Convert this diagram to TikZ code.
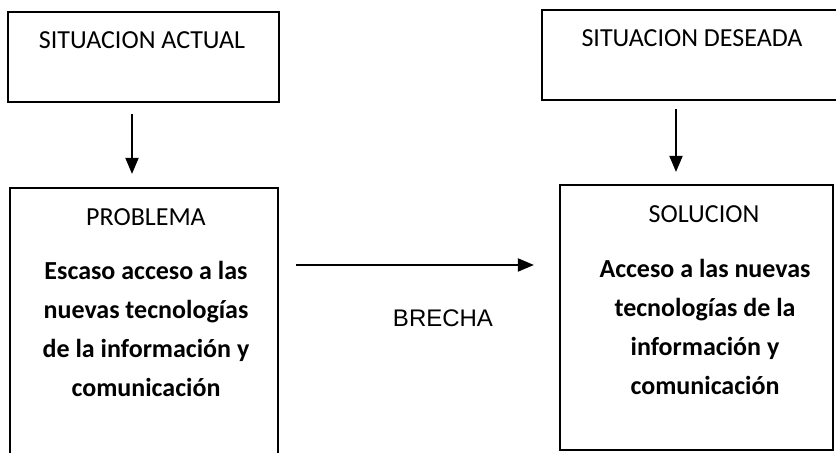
\documentclass[tikz,border=0pt]{standalone}
\usepackage{fontspec}
\setmainfont{Carlito}
\newfontfamily\arialfont{Liberation Sans}
\usetikzlibrary{calc}
\usetikzlibrary{arrows.meta}
\tikzset{
  caja/.style={draw,line width=1.1pt,rectangle,inner sep=0pt},
  titulo/.style={font={\fontsize{13}{15}\selectfont}},
  cuerpo/.style={align=center,font={\fontsize{13}{19.5}\selectfont\bfseries}},
  flecha/.style={line width=1pt,-{Triangle[length=8pt,width=6.5pt]}}
}

\begin{document}
\begin{tikzpicture}[x=0.5pt,y=-0.5pt]
  \useasboundingbox (0,0) rectangle (836,453);
  % cajas de arriba
  \node[caja,minimum width=135.5pt,minimum height=45pt] (actual) at (143.5,57) {};
  \node[caja,minimum width=148.5pt,minimum height=45pt] (deseada) at (690.5,55) {};
  \node[titulo] (tactual) at (142,40) {SITUACION ACTUAL};
  \node[titulo] (tdeseada) at (692,38) {SITUACION DESEADA};
  % cajas de abajo
  \node[caja,minimum width=134pt,minimum height=141pt] (problema) at (144,329) {};
  \node[caja,minimum width=136.5pt,minimum height=132.5pt] (solucion) at (696.5,317.5) {};
  \node[titulo] (tproblema) at (146,217) {PROBLEMA};
  \node[titulo] (tsolucion) at (704,214) {SOLUCION};
  \node[cuerpo] (cproblema) at (146,329) {Escaso acceso a las\\nuevas tecnologías\\de la información y\\comunicación};
  \node[cuerpo] (csolucion) at (705,327) {Acceso a las nuevas\\tecnologías de la\\información y\\comunicación};
  \node[font={\arialfont\fontsize{12}{14}\selectfont}] (brecha) at (443,318) {BRECHA};
  % flechas
  \draw[flecha] ($(actual.south)+(-11.5,11)$) -- ($(problema.north)+(-12,-13)$);
  \draw[flecha] ($(deseada.south)+(-14.5,8)$) -- ($(solucion.north)+(-20.5,-12)$);
  \draw[flecha] ($(problema.east)+(17,-64)$) -- ($(solucion.west)+(-25,-52.5)$);
\end{tikzpicture}
\end{document}
